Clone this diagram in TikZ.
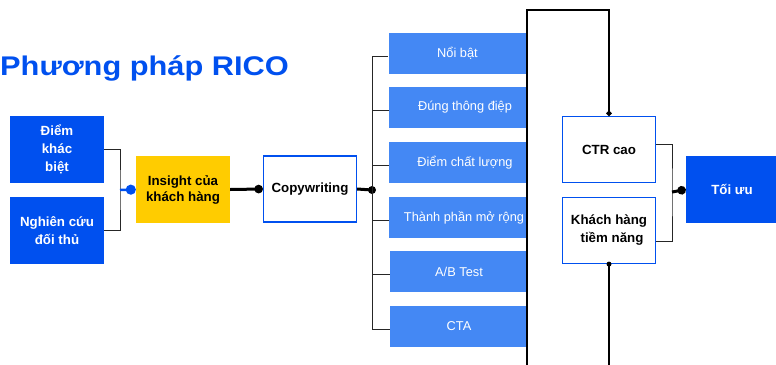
\documentclass[tikz,border=0pt]{standalone}
\usepackage{fontspec}
\setmainfont{Liberation Sans}
\usetikzlibrary{arrows.meta}
\definecolor{ricoblue}{HTML}{0050EF}
\definecolor{listblue}{HTML}{4488F4}
\definecolor{insightyellow}{HTML}{FFCC00}

\begin{document}
\begin{tikzpicture}[x=1pt, y=-1pt,
  darkbox/.style={fill=ricoblue, text=white, font=\fontsize{13.3}{18}\selectfont\bfseries, minimum width=94pt, minimum height=67pt, inner sep=0pt, align=center},
  whitebox/.style={draw=ricoblue, line width=1.2pt, fill=white, font=\fontsize{13.3}{18}\selectfont\bfseries, minimum width=93pt, minimum height=66pt, inner sep=0pt, align=center},
  listbox/.style={fill=listblue, text=white, font=\fontsize{12.8}{15}\selectfont, minimum width=138pt, minimum height=41pt, inner sep=0pt},
  thinline/.style={line width=1pt, black!85},
  boldline/.style={line width=3pt, black},
  dotend/.style={-{Circle[length=8.5pt]}}]
\useasboundingbox (0,0) rectangle (776,364);

\node[anchor=base west, text=ricoblue, font=\fontsize{27}{30}\selectfont\bfseries, inner sep=0pt] (title) at (0,75) {\scalebox{1.14}[1]{Phương pháp RICO}};

\node[darkbox] (diem) at (57,149.5) {Điểm\\khác\\biệt};
\node[darkbox] (nghien) at (57,230.5) {Nghiên cứu\\đối thủ};
\node[darkbox, fill=insightyellow, text=black, font=\fontsize{13.3}{16}\selectfont\bfseries] (insight) at (183,189.5) {Insight của\\khách hàng};
\node[whitebox] (copy) at (310,189) {Copywriting};

\node[listbox] (b1) at (457.5,53.5) {Nổi bật};
\node[listbox] (b2) at (458,107.5) {\hspace*{14pt}Đúng thông điệp};
\node[listbox] (b3) at (458,162.5) {\hspace*{14pt}Điểm chất lượng};
\node[listbox] (b4) at (458,217.5) {\hspace*{12pt}Thành phần mở rộng};
\node[listbox] (b5) at (459,271.5) {A/B Test};
\node[listbox] (b6) at (459,326.5) {CTA};

\node[whitebox] (ctr) at (609,149.5) {CTR cao};
\node[whitebox] (khach) at (609,230.5) {Khách hàng\\\hspace*{6pt}tiềm năng};
\node[darkbox, minimum width=92pt] (toiuu) at (732,189.5) {Tối ưu};

\coordinate (jl) at (120,190);
\coordinate (jc) at (372,190);
\coordinate (jr) at (672,192);
\coordinate (top) at (527,10);
\coordinate (bot) at (527,366);

\draw[thinline] (diem.east) -| (jl) |- (nghien.east);
\draw[line width=2.5pt, ricoblue, -{Circle[length=10pt]}] (jl) -- (insight.west);
\draw[boldline, dotend] (insight.east) -- (copy.west);
\draw[boldline] (copy.east) -- (jc);
\fill (jc) circle (4pt);
\foreach \i in {1,...,6}
  \draw[thinline] (jc) |- ([yshift=-3pt]b\i.west);

\draw[line width=2pt, line join=miter, -{Circle[length=5pt]}] (bot) -- (top) -| (ctr.north);
\draw[line width=2pt] (khach.south) -- (khach.south |- bot);
\fill (khach.south) circle (2.5pt);

\draw[thinline] ([yshift=5.5pt]ctr.east) -| (jr) |- ([yshift=-10.5pt]khach.east);
\draw[boldline, dotend] (jr) -- (toiuu.west);
\end{tikzpicture}
\end{document}
